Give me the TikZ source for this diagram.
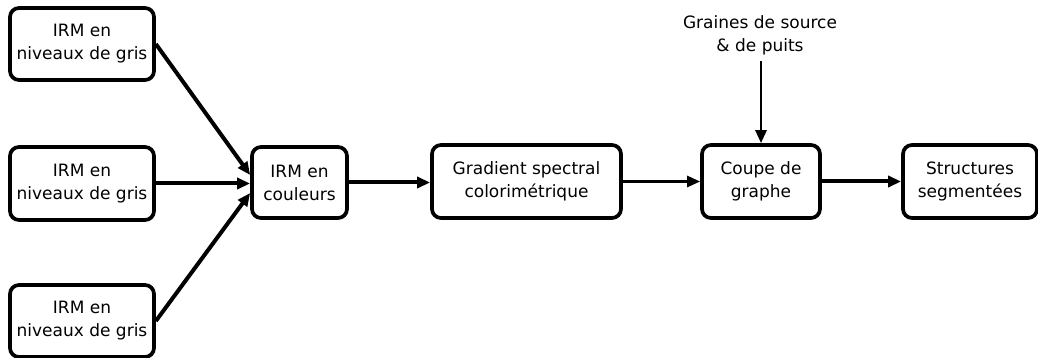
\documentclass[tikz,border=0pt]{standalone}
\usepackage{fontspec}
\setmainfont{DejaVu Sans}
\usetikzlibrary{arrows.meta}
\begin{document}
\begin{tikzpicture}[x=1pt,y=-1pt,
  every node/.style={font=\fontsize{17}{23}\selectfont, align=center},
  blk/.style={draw, line width=3.7pt, rounded corners=9pt, inner sep=0pt},
  arr/.style={line width=4pt, -{Triangle[length=13pt,width=11pt]}},
  thinarr/.style={line width=2.8pt, -{Triangle[length=13pt,width=11pt]}}]
\useasboundingbox (0,0) rectangle (1038,358);
\node[blk, minimum width=144pt, minimum height=72pt] (g1) at (82,44) {IRM en\\niveaux de gris};
\node[blk, minimum width=144pt, minimum height=73pt] (g2) at (82,183.5) {IRM en\\niveaux de gris};
\node[blk, minimum width=144pt, minimum height=72pt] (g3) at (82,321) {IRM en\\niveaux de gris};
\node[blk, minimum width=95pt, minimum height=71pt] (col) at (299.5,182.5) {IRM en\\couleurs};
\node[blk, minimum width=189pt, minimum height=73pt] (grad) at (526.5,181.5) {Gradient spectral\\colorimétrique};
\node[blk, minimum width=118pt, minimum height=73pt] (cut) at (761,181.5) {Coupe de\\graphe};
\node[blk, minimum width=134pt, minimum height=73pt] (seg) at (970,181.5) {Structures\\segmentées};
\node[inner sep=6pt] (seed) at (760,35) {Graines de source\\\& de puits};
\draw[arr] (g1.east) -- ([yshift=7.5pt]col.west);
\draw[arr] (g2.east) -- (g2.east -| col.west);
\draw[arr] (g3.east) -- ([yshift=-10.5pt]col.west);
\draw[arr] (col.east) -- (col.east -| grad.west);
\draw[thinarr] (grad.east) -- (grad.east -| cut.west);
\draw[arr] (cut.east) -- (cut.east -| seg.west);
\draw[thinarr] (seed.south -| cut.north) -- (cut.north);
\end{tikzpicture}
\end{document}
